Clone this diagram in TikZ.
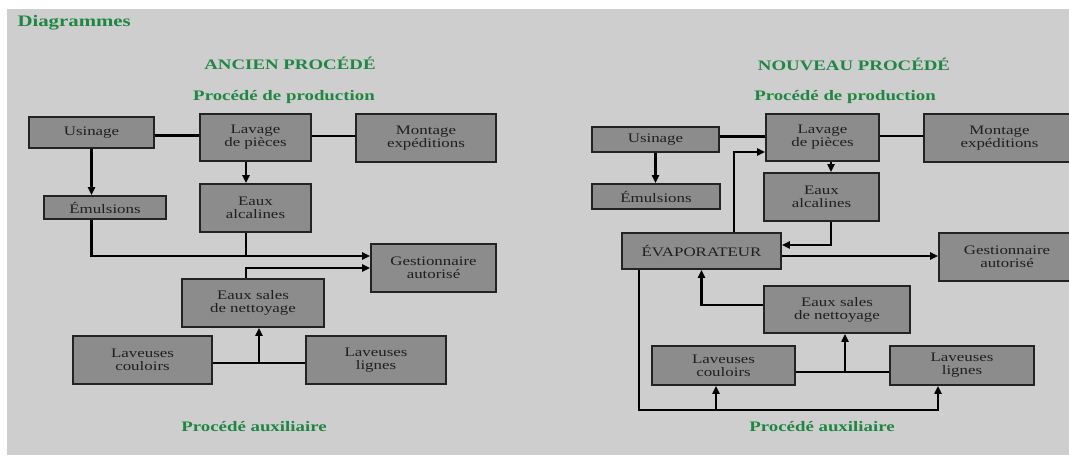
\documentclass[tikz,border=0pt]{standalone}
\usepackage{fontspec}
\setmainfont{Liberation Serif}[FakeStretch=1.3]
\usepackage{xcolor}
\usepackage{tikz}
\definecolor{panelgray}{RGB}{206,206,206}
\definecolor{boxgray}{RGB}{140,140,140}
\definecolor{boxline}{RGB}{35,35,35}
\definecolor{titlegreen}{RGB}{30,135,65}
\usetikzlibrary{arrows.meta,positioning,calc}

\begin{document}
\begin{tikzpicture}[
    x=1pt, y=-1pt,
    stepbox/.style={rectangle, draw=boxline, line width=1.8pt, fill=boxgray, text=black!88, align=center, inner sep=0pt, font=\fontsize{13}{13}\selectfont},
    heading/.style={text=titlegreen, font=\bfseries\fontsize{14.5}{16}\selectfont},
    flow/.style={line width=2.1pt, -{Triangle[length=8pt,width=7pt]}},
    link/.style={line width=2.1pt}
]
\useasboundingbox (0,0) rectangle (1069,457);
\clip (0,0) rectangle (1069,457);
\fill[panelgray] (7,9) rectangle (1069,455);

% Titles
\node[heading, anchor=base west, font=\bfseries\fontsize{16}{18}\selectfont] (diag) at (14,27) {Diagrammes};
\node[heading] (ancien) at (290,63) {ANCIEN PROCÉDÉ};
\node[heading] (nouveau) at (854,64) {NOUVEAU PROCÉDÉ};
\node[heading] (prodA) at (284,97) {Procédé de production};
\node[heading] (prodB) at (845,97) {Procédé de production};
\node[heading] (auxA) at (254,427) {Procédé auxiliaire};
\node[heading] (auxB) at (822,427) {Procédé auxiliaire};

% Ancien procede: boxes
\node[stepbox, minimum width=125, minimum height=31] (usinA) at (91.5,132.5) {Usinage};
\node[stepbox, minimum width=111, minimum height=47] (lavA) at (255.5,137.5) {Lavage\\de pièces};
\node[stepbox, minimum width=140, minimum height=48] (montA) at (426,138) {Montage\\expéditions};
\node[stepbox, minimum width=122, minimum height=23] (emulA) at (105,207.5) {Émulsions};
\node[stepbox, minimum width=111, minimum height=48] (alcA) at (255.5,208) {Eaux\\alcalines};
\node[stepbox, minimum width=125, minimum height=48] (gestA) at (433.5,268) {Gestionnaire\\autorisé};
\node[stepbox, minimum width=142, minimum height=48] (salesA) at (253,303) {Eaux sales\\de nettoyage};
\node[stepbox, minimum width=139, minimum height=48] (coulA) at (142.5,360) {Laveuses\\couloirs};
\node[stepbox, minimum width=140, minimum height=48] (lignA) at (376,360) {Laveuses\\lignes};

% Ancien procede: connectors
\coordinate (mergeA) at (246,256);
\coordinate (jA) at ($(coulA.east)!0.5!(lignA.west)+(0,3)$);
\draw[link] ([yshift=-3pt]usinA.east) -- ([yshift=-3pt]usinA.east -| lavA.west);
\draw[link] ([yshift=1.5pt]lavA.east) -- ([yshift=1.5pt]lavA.east -| montA.west);
\draw[flow] (usinA.south) -- (usinA.south |- emulA.north);
\draw[flow] ([xshift=-9.5pt]lavA.south) -- ([xshift=-9.5pt]lavA.south |- alcA.north);
\draw[link] (alcA.south -| mergeA) -- (mergeA);
\draw[flow] (emulA.south -| usinA.south) |- (mergeA) -- (mergeA -| gestA.west);
\draw[flow] ([xshift=-7pt]salesA.north) |- (gestA.west);
\draw[link] (coulA.east |- jA) -- (lignA.west |- jA);
\draw[flow] (jA) -- (jA |- salesA.south);

% Nouveau procede: boxes
\node[stepbox, minimum width=127, minimum height=25] (usinB) at (655.5,139.5) {Usinage};
\node[stepbox, minimum width=113, minimum height=47] (lavB) at (822.5,137.5) {Lavage\\de pièces};
\node[stepbox, minimum width=151, minimum height=48] (montB) at (999.5,138) {Montage\\expéditions};
\node[stepbox, minimum width=128, minimum height=25] (emulB) at (656,196.5) {Émulsions};
\node[stepbox, minimum width=115, minimum height=48] (alcB) at (821.5,197) {Eaux\\alcalines};
\node[stepbox, minimum width=159, minimum height=36] (evap) at (701.5,251) {ÉVAPORATEUR};
\node[stepbox, minimum width=136, minimum height=48] (gestB) at (1007,257) {Gestionnaire\\autorisé};
\node[stepbox, minimum width=146, minimum height=47] (salesB) at (837,309.5) {Eaux sales\\de nettoyage};
\node[stepbox, minimum width=143, minimum height=39] (coulB) at (723.5,365.5) {Laveuses\\couloirs};
\node[stepbox, minimum width=144, minimum height=39] (lignB) at (962,365.5) {Laveuses\\lignes};

% Nouveau procede: connectors
\coordinate (feedB) at (716,410);
\coordinate (jB) at ($(coulB.east)!0.5!(lignB.west)+(2.5,6.5)$);
\draw[link] ([yshift=3pt]usinB.east) -- ([yshift=3pt]usinB.east -| lavB.west);
\draw[link] ([yshift=1.5pt]lavB.east) -- ([yshift=1.5pt]lavB.east -| montB.west);
\draw[flow] (usinB.south) -- (usinB.south |- emulB.north);
\draw[flow] ([xshift=8.5pt]lavB.south) -- ([xshift=8.5pt]lavB.south |- alcB.north);
\draw[flow] ([xshift=9.5pt]alcB.south) |- ([yshift=6pt]evap.east);
\draw[flow] ([yshift=-5pt]evap.east) -- ([yshift=-5pt]evap.east -| gestB.west);
\draw[flow] ([xshift=32.5pt]evap.north) |- ([yshift=-14.5pt]lavB.west);
\draw[flow] ([yshift=4.5pt]salesB.west) -| (evap.south);
\draw[link] (coulB.east |- jB) -- (lignB.west |- jB);
\draw[flow] (jB) -- (jB |- salesB.south);
\draw[flow] ([xshift=-62.5pt]evap.south) |- (feedB) -| ([xshift=-24pt]lignB.south);
\draw[flow] (feedB) -- (feedB |- coulB.south);

\end{tikzpicture}
\end{document}
